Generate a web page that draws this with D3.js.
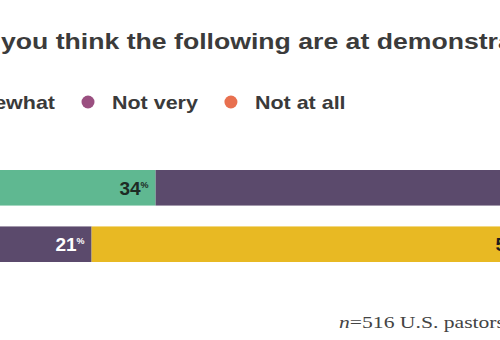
<!DOCTYPE html>
<html>
<head>
<meta charset="utf-8">
<script src="https://cdn.jsdelivr.net/npm/d3@7"></script>
<style>
  html, body { margin: 0; padding: 0; background: #fff; overflow: hidden; }
  svg { display: block; }
</style>
</head>
<body>
<svg id="chart" width="500" height="340"></svg>
<script>
// ---- data ----
const titleText = "How effective do you think the following are at demonstrating love to people in the community?";
const titleVisibleFrom = "you think";
const legendLabels = ["Very", "Somewhat", "Not very", "Not at all"];
const legendColors = ["#2f7d6a", "#5fb891", "#9a4f80", "#e8704f"];
const rowNames = ["Item A", "Item B"];
const row1Values = [11, 34, 49, 6];
const row1Colors = ["#2f7d6a", "#5fb891", "#5b4a6c", "#e8704f"];
const row1LabelColors = ["#fff", "#1d2b24", "#fff", "#1d2b24"];
const row2Values = [16, 21, 55, 8];
const row2Colors = ["#8a8a8a", "#5b4a6c", "#e8b923", "#e8704f"];
const row2LabelColors = ["#fff", "#fff", "#1d1d1d", "#1d2b24"];
const footnoteN = "516";
const footnoteRest = " U.S. pastors";

// ---- layout ----
const W = 500;
const svg = d3.select("#chart");
const x = d3.scaleLinear().domain([0, 100]).range([-204.4, 595.6]);
const y = d3.scaleBand().domain(rowNames).range([170, 262]).paddingInner(0.37).paddingOuter(0);

function stretch(sel, k) {
  const w = sel.node().getComputedTextLength();
  sel.attr("textLength", w * k).attr("lengthAdjust", "spacingAndGlyphs");
  return w * k;
}

// title
const titleK = 1.21;
const title = svg.append("text")
  .attr("y", 49)
  .attr("font-family", "Liberation Sans, Arial, sans-serif")
  .attr("font-weight", "bold")
  .attr("font-size", 22)
  .attr("fill", "#3b3b3b")
  .text(titleText);
const idx = titleText.indexOf(titleVisibleFrom);
const pre = title.node().getSubStringLength(0, idx);
stretch(title, titleK);
title.attr("x", 1 - pre * titleK);

// legend
const legendK = 1.13;
const lg = svg.append("g");
let cx = 0;
const items = [];
legendLabels.forEach((lab, i) => {
  const g = lg.append("g");
  g.append("circle").attr("cx", cx).attr("cy", 102).attr("r", 6.5).attr("fill", legendColors[i]);
  const t = g.append("text").attr("x", cx + 24).attr("y", 108.5)
    .attr("font-family", "Liberation Sans, Arial, sans-serif").attr("font-weight", "bold")
    .attr("font-size", 19).attr("fill", "#3a3a3a").text(lab);
  const tw = stretch(t, legendK);
  items.push(cx);
  cx = cx + 24 + tw + 33;
});
lg.attr("transform", `translate(${88 - items[2]},0)`);

// bars
const rows = [
  {name: rowNames[0], values: row1Values, colors: row1Colors, labelColors: row1LabelColors},
  {name: rowNames[1], values: row2Values, colors: row2Colors, labelColors: row2LabelColors}
];
rows.forEach(row => {
  let acc = 0;
  const segs = row.values.map((v, i) => {
    const s = {start: acc, end: acc + v, v, color: row.colors[i], lc: row.labelColors[i]};
    acc += v;
    return s;
  });
  const g = svg.append("g");
  g.selectAll("rect").data(segs).join("rect")
    .attr("x", d => x(d.start))
    .attr("y", y(row.name))
    .attr("width", d => x(d.end) - x(d.start))
    .attr("height", y.bandwidth())
    .attr("fill", d => d.color);
  // labels only for segments whose label lands inside the visible frame
  const vis = segs.filter(d => x(d.end) - 7 > 0 && x(d.end) - 40 < W);
  const lab = g.selectAll("text").data(vis).join("text")
    .attr("x", d => x(d.end) - 7)
    .attr("y", y(row.name) + y.bandwidth() / 2 + 7)
    .attr("text-anchor", "end")
    .attr("font-family", "Liberation Sans, Arial, sans-serif")
    .attr("font-weight", "bold")
    .attr("font-size", 19)
    .attr("fill", d => d.lc);
  lab.append("tspan").text(d => d.v);
  lab.append("tspan").attr("font-size", 9).attr("dy", -7).text("%");
});

// footnote
const fn = svg.append("text")
  .attr("x", 339).attr("y", 328)
  .attr("font-family", "Liberation Serif, Times New Roman, serif")
  .attr("font-size", 16).attr("fill", "#444");
fn.append("tspan").attr("font-style", "italic").text("n");
fn.append("tspan").text("=" + footnoteN + footnoteRest);
const fw = fn.node().getComputedTextLength();
fn.attr("textLength", 166).attr("lengthAdjust", "spacingAndGlyphs");
</script>
</body>
</html>
